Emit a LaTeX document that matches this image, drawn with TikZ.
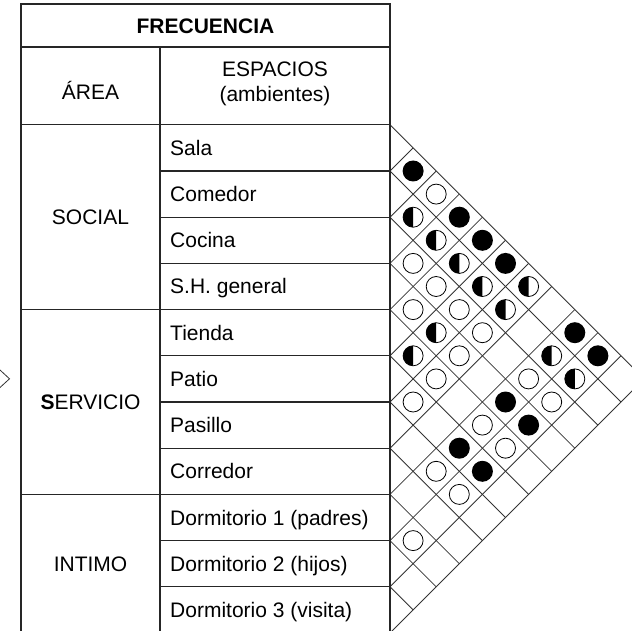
\documentclass[tikz,border=0pt]{standalone}
\usepackage{fontspec}
\setmainfont{Liberation Sans}
\usetikzlibrary{calc}

\begin{document}
\begin{tikzpicture}[
        x=1pt, y=-1pt,
        txt/.style={inner sep=0pt, font=\fontsize{21}{25}\selectfont},
        area/.style={txt, anchor=base, align=center},
        espacio/.style={txt, anchor=base west},
        tabla/.style={line width=1.2pt, draw=black!85},
        rejilla/.style={line width=0.8pt, draw=black!80},
        lleno/.style={fill=black},
        vacio/.style={draw=black, line width=0.8pt, fill=white}
    ]
    \useasboundingbox (0,0) rectangle (632,631);
    \clip (0,0) rectangle (632,631);

    % matriz de relaciones
    \foreach \k in {0,...,11}{
        \draw[rejilla] (390,{124.8+46.2*\k}) -- ++({23.1*(11-\k)},{23.1*(11-\k)});
        \draw[rejilla] (390,{124.8+46.2*\k}) -- ++({23.1*\k},{-23.1*\k});
    }
    \draw[rejilla] (0,370) -- (9.5,378.8) -- (0,387.5);

    % tabla
    \draw[tabla] (21,4) rectangle (390,640);
    \draw[tabla] (21,47) -- (390,47);
    \draw[tabla] (160,47) -- (160,640);
    \foreach \k in {0,4,8}
        \draw[tabla] (21,{124.8+46.2*\k}) -- (390,{124.8+46.2*\k});
    \foreach \k in {1,2,3,5,6,7,9,10}
        \draw[tabla] (160,{124.8+46.2*\k}) -- (390,{124.8+46.2*\k});

    \node[area, font=\fontsize{21}{25}\selectfont\bfseries] (frec) at (205.5,33.3) {FRECUENCIA};
    \node[area] (area) at (90.5,99.5) {ÁREA};
    \node[txt, align=center] (esp) at (275,84) {ESPACIOS\\(ambientes)};

    \node[area] (social) at (90.5,224.7) {SOCIAL};
    \node[area] (servicio) at (90.5,409.5) {{\bfseries S}ERVICIO};
    \node[area] (intimo) at (90.5,571) {INTIMO};

    \foreach \n [count=\k from 0] in {Sala,Comedor,Cocina,S.H. general,Tienda,Patio,Pasillo,Corredor,Dormitorio 1 (padres),Dormitorio 2 (hijos),Dormitorio 3 (visita)}
        \node[espacio] (e\k) at (170,{124.8+46.2*\k+30.6}) {\n};

    % frecuencia alta
    \foreach \i/\j in {0/1,0/3,0/4,0/5,0/8,0/9,3/8,3/9,5/8,5/9}
        \fill[lleno] ({390+23.1*(\j-\i)},{124.8+23.1*(\i+\j+1)}) circle[radius=10.5];
    % frecuencia baja
    \foreach \i/\j in {0/2,2/3,2/4,3/4,2/5,2/6,3/6,4/6,2/8,5/6,2/9,4/8,4/9,6/8,6/9,8/9}
        \draw[vacio] ({390+23.1*(\j-\i)},{124.8+23.1*(\i+\j+1)}) circle[radius=10];
    % frecuencia media
    \foreach \i/\j in {1/2,1/3,1/4,1/5,0/6,1/6,3/5,4/5,1/8,1/9}{
        \coordinate (c) at ({390+23.1*(\j-\i)},{124.8+23.1*(\i+\j+1)});
        \draw[vacio] (c) circle[radius=10];
        \fill[lleno] (c) ++(0,10) arc[start angle=90, end angle=270, radius=10] -- cycle;
    }
\end{tikzpicture}
\end{document}
